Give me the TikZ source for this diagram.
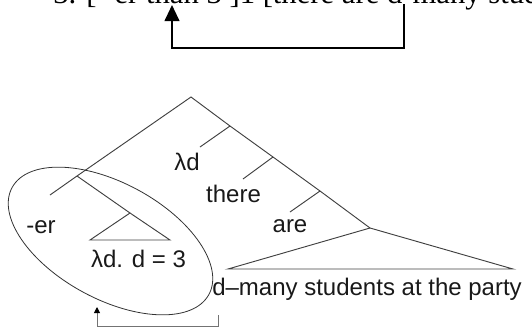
\documentclass[tikz,border=0pt]{standalone}
\usepackage{fontspec}
\setmainfont{Liberation Sans}
\newfontfamily\tnr{Liberation Serif}
\usetikzlibrary{arrows.meta}
\begin{document}
\begin{tikzpicture}[x=0.75pt,y=-0.75pt,
  branch/.style={draw=black!75, line width=0.7pt},
  ring/.style={draw=black!80, line width=0.6pt},
  lab/.style={inner sep=0pt, font=\fontsize{18}{20}\selectfont, text=black!90},
  bigbracket/.style={draw=black, line width=1.5pt, -{Triangle[width=11pt,length=12pt]}},
  smallbracket/.style={draw=black!55, line width=0.7pt, -{Triangle[width=4.5pt,length=4.5pt,color=black]}}]
\useasboundingbox (0,0) rectangle (532,329);
\clip (0,0) rectangle (532,329);
% top sentence (cut off at the top)
\node[inner sep=0pt, anchor=base west, font=\tnr\fontsize{23}{25}\selectfont] (sent) at (53,3) {3. [ -er than 3 ]1 [there are d-many students at the party]};
\coordinate (tA) at (172,5);
\coordinate (tAb) at (172,47.5);
\coordinate (tBb) at (404,47.5);
\coordinate (tB) at (404,4);
\draw[bigbracket] (tB) -- (tBb) -- (tAb) -- (tA);
% tree points
\coordinate (root) at (191,97);
\coordinate (n1) at (230,126);
\coordinate (n2) at (273,157);
\coordinate (n3) at (320,191);
\coordinate (vp) at (370,228);
\coordinate (vpL) at (228,269);
\coordinate (vpR) at (513,269);
\coordinate (nL) at (77,176);
\coordinate (er) at (50,195);
\coordinate (t3) at (130,213);
\coordinate (t3L) at (90,240);
\coordinate (t3R) at (170,240);
\coordinate (b1) at (200,147);
\coordinate (b2) at (243,179);
\coordinate (b3) at (290,212);
\draw[branch] (er) -- (nL) -- (root) -- (n1) -- (n2) -- (n3) -- (vp);
\draw[branch] (n1) -- (b1);
\draw[branch] (n2) -- (b2);
\draw[branch] (n3) -- (b3);
\draw[branch] (nL) -- (t3);
\draw[branch] (t3) -- (t3L) -- (t3R) -- cycle;
\draw[branch] (vp) -- (vpL) -- (vpR) -- cycle;
% ellipse
\draw[ring, rotate around={-28.5:(110.5,241)}] (110.5,241) ellipse [x radius=112, y radius=58];
% labels
\node[lab, anchor=base west] (erlab) at (26,233) {-er};
\node[lab, anchor=base] (lam3) at (138.5,267) {λd. d = 3};
\node[lab, anchor=base] (lamd) at (187,170) {λd};
\node[lab, anchor=base] (there) at (233.5,202) {there};
\node[lab, anchor=base] (are) at (290,232) {are};
\node[lab, anchor=base west] (dmany) at (212,295) {d–many students at the party};
% small bracket
\coordinate (sA) at (97,307);
\coordinate (sAb) at (97,326);
\coordinate (sBb) at (218,326);
\coordinate (sB) at (218,315);
\draw[smallbracket] (sB) -- (sBb) -- (sAb) -- (sA);
\end{tikzpicture}
\end{document}
